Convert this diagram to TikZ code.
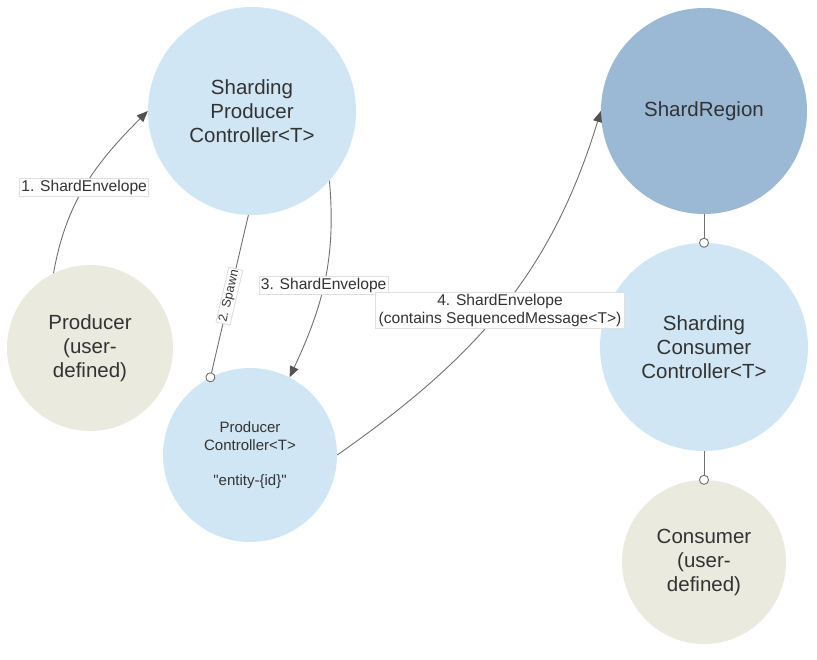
\documentclass[tikz,border=0pt]{standalone}
\usepackage{fontspec}
\setmainfont{Liberation Sans}[Ligatures=TeXOff]
\usetikzlibrary{arrows.meta}
\definecolor{ctrlblue}{HTML}{D0E6F5}
\definecolor{regionblue}{HTML}{9BB8D5}
\definecolor{userbeige}{HTML}{EAEADF}
\definecolor{inkgray}{HTML}{333333}
\definecolor{wiregray}{HTML}{707070}
\begin{document}
\begin{tikzpicture}[
    x=1pt,y=-1pt,
    actor/.style={circle,inner sep=0pt,text=inkgray,align=center,font=\fontsize{20.5}{24}\selectfont},
    controller/.style={actor,fill=ctrlblue},
    region/.style={actor,fill=regionblue},
    user/.style={actor,fill=userbeige},
    msg/.style={draw=wiregray,line width=0.9pt,-{Triangle[length=11pt,width=9pt,color=inkgray!85]}},
    link/.style={draw=wiregray,line width=0.9pt,-{Circle[length=10pt,fill=white]},shorten >=-5pt},
    tag/.style={fill=white,draw=gray!25,inner sep=2pt,text=inkgray,align=center,font=\fontsize{15.6}{17.5}\selectfont}
  ]
  \useasboundingbox (0,0) rectangle (817,659);
  % Draw the actors.
  \node[controller,minimum size=208pt] (spc) at (252,111) {Sharding\\Producer\\Controller<T>};
  \node[region,minimum size=206pt] (sr) at (704,111) {ShardRegion};
  \node[user,minimum size=166pt] (prod) at (90,348) {Producer\\(user-\\defined)};
  \node[controller,minimum size=174pt,font=\fontsize{15}{17.5}\selectfont] (pc) at (250,455) {Producer\\Controller<T>\\[17.5pt]"entity-\{id\}"};
  \node[controller,minimum size=208pt] (scc) at (704,347) {Sharding\\Consumer\\Controller<T>};
  \node[user,minimum size=164pt] (cons) at (704,562) {Consumer\\(user-\\defined)};
  % Draw the messages.
  \draw[msg] (prod.116) to[out=80,in=225] node[tag,pos=0.48] {1. ShardEnvelope} (spc.180);
  \draw[link] (spc.-92) -- node[tag,sloped,pos=0.5,font=\fontsize{12.5}{15}\selectfont,inner sep=1.5pt] {2. Spawn} (pc.117);
  \draw[msg] (spc.-42) to[out=-85,in=65] node[tag,pos=0.52] {3. ShardEnvelope} (pc.63);
  \draw[msg] (pc.0) to[out=35,in=253] node[tag,pos=0.49,inner xsep=3pt] {4. ShardEnvelope\\(contains SequencedMessage<T>)} (sr.180);
  % Draw the links on the consumer side.
  \draw[link] (sr.south) -- (scc.north);
  \draw[link] (scc.south) -- (cons.north);
\end{tikzpicture}
\end{document}
